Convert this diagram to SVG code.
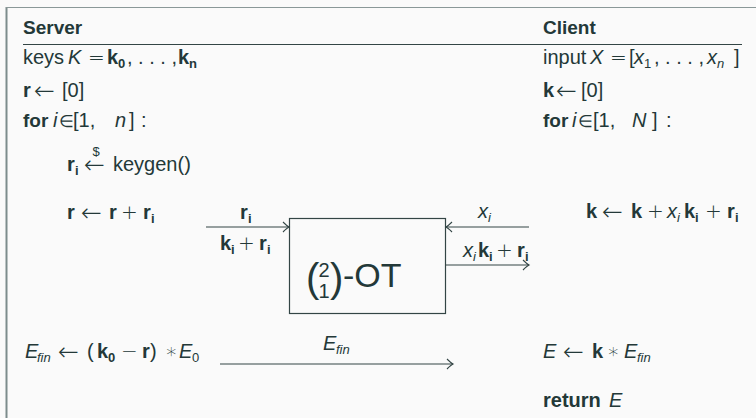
<svg xmlns="http://www.w3.org/2000/svg" width="756" height="418" viewBox="0 0 756 418">
<defs>
<style>
text{font-family:"Liberation Sans",Arial,sans-serif;font-size:20px;fill:#233838}
.h{font-weight:bold;font-size:19px}
.b{font-weight:bold}
.i{font-style:italic}
.s{font-size:13px}
.m{font-family:"DejaVu Sans",sans-serif;font-weight:200}
.e{font-family:"DejaVu Sans",sans-serif;font-weight:200;font-size:17px}
.a{font-family:"DejaVu Sans",sans-serif;font-size:25px;font-weight:200}
.ln{stroke:#334545;stroke-width:1.2;fill:none}
.c{text-anchor:middle}
</style>
<marker id="ah" viewBox="-8 -6 10 12" markerWidth="10" markerHeight="12" refX="0" refY="0" orient="auto" markerUnits="userSpaceOnUse">
<path d="M-6,-5 Q-2,-1 0,0 Q-2,1 -6,5" stroke="#334545" stroke-width="1.1" fill="none"/>
</marker>
</defs>
<rect width="756" height="418" fill="#fafafa"/>
<g id="frame">
<line x1="6.5" y1="7" x2="6.5" y2="418" stroke="#7d8c8c" stroke-width="2"/>
<line x1="6" y1="7.5" x2="756" y2="7.5" stroke="#8a9898" stroke-width="1"/>
<line x1="23" y1="44.5" x2="742" y2="44.5" stroke="#334545" stroke-width="1"/>
</g>
<g id="server">
<text x="23" y="34" class="h">Server</text>
<text y="64"><tspan x="23">keys</tspan><tspan x="68" class="i">K</tspan><tspan x="88" class="m">=</tspan><tspan x="107" class="b">k</tspan><tspan x="118" y="68" class="s b">0</tspan><tspan x="127" y="64">, . . . ,</tspan><tspan x="178" class="b">k</tspan><tspan x="189" y="68" class="s b">n</tspan></text>
<text y="97"><tspan x="23" class="b">r</tspan><tspan x="34" y="99" class="a">←</tspan><tspan x="62" y="97">[0]</tspan></text>
<text y="127"><tspan x="23" class="b" style="font-size:19px">for</tspan><tspan x="53" class="i">i</tspan><tspan x="59" class="e">∈</tspan><tspan x="73">[1,</tspan><tspan x="115" class="i">n</tspan><tspan x="129">]</tspan><tspan x="141">:</tspan></text>
<text y="171"><tspan x="67" class="b">r</tspan><tspan x="75" y="175" class="s b">i</tspan><tspan x="84" y="173" class="a">←</tspan><tspan x="113" y="171">keygen()</tspan></text>
<text x="96" y="156" class="s c">$</text>
<text y="219"><tspan x="67" class="b">r</tspan><tspan x="81" y="221" class="a">←</tspan><tspan x="109" y="219" class="b">r</tspan><tspan x="121" class="m">+</tspan><tspan x="143" class="b">r</tspan><tspan x="151" y="223" class="s b">i</tspan></text>
<text y="358"><tspan x="25" class="i">E</tspan><tspan x="37" y="362" class="s i">fin</tspan><tspan x="58" y="360" class="a">←</tspan><tspan x="87" y="358">(</tspan><tspan x="97" class="b">k</tspan><tspan x="108" y="362" class="s b">0</tspan><tspan x="121" y="358" class="m">−</tspan><tspan x="142" class="b">r</tspan><tspan x="150">)</tspan><tspan x="165" class="m">∗</tspan><tspan x="179" class="i">E</tspan><tspan x="192" y="362" class="s">0</tspan></text>
</g>
<g id="client">
<text x="543" y="34" class="h">Client</text>
<text y="64"><tspan x="543">input</tspan><tspan x="590" class="i">X</tspan><tspan x="610" class="m">=</tspan><tspan x="629">[</tspan><tspan x="634" class="i">x</tspan><tspan x="644" y="68" class="s">1</tspan><tspan x="654" y="64">, . . . ,</tspan><tspan x="707" class="i">x</tspan><tspan x="717" y="68" class="s i">n</tspan><tspan x="734" y="64">]</tspan></text>
<text y="97"><tspan x="543" class="b">k</tspan><tspan x="556" y="99" class="a">←</tspan><tspan x="581" y="97">[0]</tspan></text>
<text y="127"><tspan x="543" class="b" style="font-size:19px">for</tspan><tspan x="572" class="i">i</tspan><tspan x="578" class="e">∈</tspan><tspan x="593">[1,</tspan><tspan x="632" class="i">N</tspan><tspan x="652">]</tspan><tspan x="666">:</tspan></text>
<text y="218"><tspan x="586" class="b">k</tspan><tspan x="602" y="220" class="a">←</tspan><tspan x="631" y="218" class="b">k</tspan><tspan x="647" class="m">+</tspan><tspan x="667" class="i">x</tspan><tspan x="677" y="222" class="s i">i</tspan><tspan x="684" y="218" class="b">k</tspan><tspan x="695" y="222" class="s b">i</tspan><tspan x="705" y="218" class="m">+</tspan><tspan x="727" class="b">r</tspan><tspan x="735" y="222" class="s b">i</tspan></text>
<text y="358"><tspan x="543" class="i">E</tspan><tspan x="563" y="360" class="a">←</tspan><tspan x="592" y="358" class="b">k</tspan><tspan x="607" class="m">∗</tspan><tspan x="624" class="i">E</tspan><tspan x="637" y="362" class="s i">fin</tspan></text>
<text y="407"><tspan x="543" class="b">return</tspan><tspan x="609" class="i">E</tspan></text>
</g>
<g id="ot">
<rect x="289.5" y="218.5" width="156" height="95" fill="none" stroke="#334545" stroke-width="1.2"/>
<text x="306" y="292" style="font-size:40px">(</text>
<text x="324" y="277" class="c">2</text>
<text x="324" y="298" class="c">1</text>
<text x="330" y="292" style="font-size:40px">)</text>
<text x="343" y="287" style="font-size:34px">-OT</text>
</g>
<g id="connectors">
<line class="ln" x1="206" y1="227" x2="289" y2="227" marker-end="url(#ah)"/>
<line class="ln" x1="529" y1="227" x2="446" y2="227" marker-end="url(#ah)"/>
<line class="ln" x1="445" y1="265" x2="529" y2="265" marker-end="url(#ah)"/>
<line class="ln" x1="220" y1="364" x2="453" y2="364" marker-end="url(#ah)"/>
<text y="219"><tspan x="240" class="b">r</tspan><tspan x="248" y="223" class="s b">i</tspan></text>
<text y="250"><tspan x="220" class="b">k</tspan><tspan x="231" y="254" class="s b">i</tspan><tspan x="238" y="250" class="m">+</tspan><tspan x="259" class="b">r</tspan><tspan x="267" y="254" class="s b">i</tspan></text>
<text y="218"><tspan x="478" class="i">x</tspan><tspan x="488" y="222" class="s i">i</tspan></text>
<text y="257"><tspan x="463" class="i">x</tspan><tspan x="473" y="261" class="s i">i</tspan><tspan x="478" y="257" class="b">k</tspan><tspan x="489" y="261" class="s b">i</tspan><tspan x="496" y="257" class="m">+</tspan><tspan x="517" class="b">r</tspan><tspan x="525" y="261" class="s b">i</tspan></text>
<text y="350"><tspan x="323" class="i">E</tspan><tspan x="336" y="354" class="s i">fin</tspan></text>
</g>
</svg>
